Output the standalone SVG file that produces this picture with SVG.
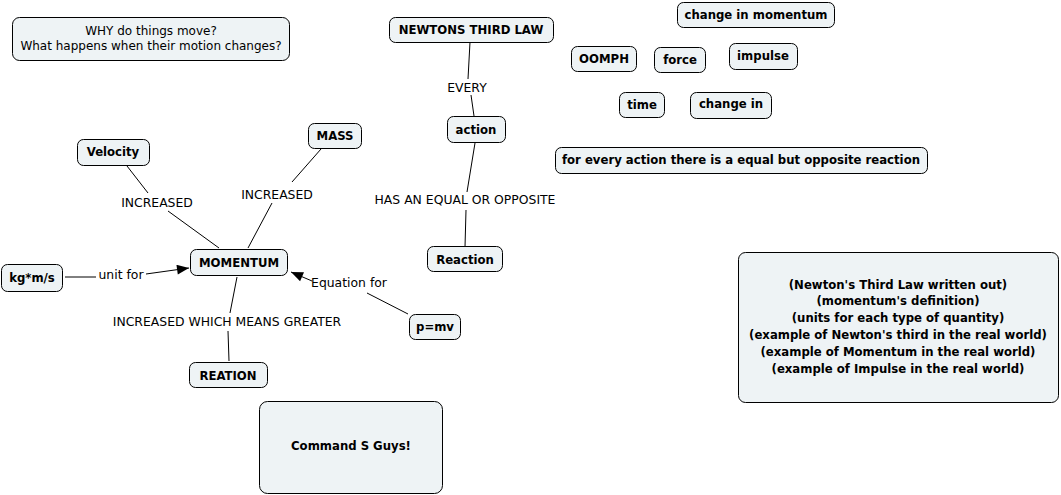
<svg xmlns="http://www.w3.org/2000/svg" width="1061" height="495" viewBox="0 0 1061 495">
<style>
.n rect{fill:#eef3f5;stroke:#000;stroke-width:1}
.n text{font-family:"DejaVu Sans",Verdana,sans-serif;font-weight:bold;font-size:11.7px;fill:#000;text-anchor:middle}
.w text{font-weight:normal;font-size:12px}
.c line,.c polyline{stroke:#000;stroke-width:1;fill:none}
.lb{font-family:"DejaVu Sans",Verdana,sans-serif;font-size:12.4px;fill:#000;text-anchor:middle}
</style>
<defs>
<marker id="ah" viewBox="0 0 12 10" refX="12" refY="5" markerWidth="13" markerHeight="10" markerUnits="userSpaceOnUse" orient="auto">
<path d="M0,0 L12,5 L0,10 Z" fill="#000"/>
</marker>
</defs>
<rect width="1061" height="495" fill="#fff"/>
<g class="c" id="connectors">
<line x1="470" y1="42" x2="468" y2="79"/>
<line x1="471" y1="95" x2="474" y2="116"/>
<line x1="475" y1="143" x2="467" y2="192"/>
<line x1="466" y1="210" x2="465" y2="247"/>
<line x1="127" y1="166" x2="148" y2="193"/>
<line x1="168" y1="211" x2="219" y2="248"/>
<line x1="321" y1="149" x2="292" y2="182"/>
<line x1="272" y1="203" x2="248" y2="248"/>
<line x1="65" y1="277" x2="96" y2="277"/>
<line x1="146" y1="274" x2="189" y2="268" marker-end="url(#ah)"/>
<line x1="408" y1="314" x2="367" y2="293"/>
<line x1="312" y1="281" x2="291" y2="272" marker-end="url(#ah)"/>
<line x1="237" y1="277" x2="230" y2="313"/>
<line x1="228" y1="331" x2="229" y2="361"/>
</g>
<g id="labels">
<text class="lb" x="467" y="92">EVERY</text>
<text class="lb" x="465" y="204">HAS AN EQUAL OR OPPOSITE</text>
<text class="lb" x="157" y="207">INCREASED</text>
<text class="lb" x="277" y="199">INCREASED</text>
<text class="lb" x="121" y="279">unit for</text>
<text class="lb" x="349" y="287">Equation for</text>
<text class="lb" x="227" y="326">INCREASED WHICH MEANS GREATER</text>
</g>
<g class="n w" id="why"><rect x="12.5" y="17.5" width="277" height="43" rx="7"/><text x="151" y="35">WHY do things move?</text><text x="151" y="50">What happens when their motion changes?</text></g>
<g class="n" id="ntl"><rect x="389.5" y="17.5" width="164" height="25" rx="6"/><text x="471" y="34">NEWTONS THIRD LAW</text></g>
<g class="n" id="action"><rect x="447.5" y="116.5" width="58" height="26" rx="6"/><text x="476" y="134">action</text></g>
<g class="n" id="reaction"><rect x="427.5" y="246.5" width="75" height="25" rx="6"/><text x="465" y="264">Reaction</text></g>
<g class="n" id="cim"><rect x="677.5" y="2.5" width="157" height="25" rx="6"/><text x="756" y="19">change in momentum</text></g>
<g class="n" id="oomph"><rect x="571.5" y="46.5" width="65" height="25" rx="6"/><text x="604" y="63">OOMPH</text></g>
<g class="n" id="force"><rect x="654.5" y="47.5" width="51" height="25" rx="6"/><text x="680" y="64">force</text></g>
<g class="n" id="impulse"><rect x="729.5" y="43.5" width="68" height="26" rx="6"/><text x="763" y="60">impulse</text></g>
<g class="n" id="time"><rect x="619.5" y="92.5" width="45" height="25" rx="6"/><text x="642" y="109">time</text></g>
<g class="n" id="changein"><rect x="690.5" y="92.5" width="81" height="26" rx="6"/><text x="731" y="108">change in</text></g>
<g class="n" id="forevery"><rect x="555.5" y="147.5" width="372" height="26" rx="6"/><text x="741" y="164">for every action there is a equal but opposite reaction</text></g>
<g class="n" id="velocity"><rect x="77.5" y="139.5" width="72" height="26" rx="6"/><text x="113" y="156">Velocity</text></g>
<g class="n" id="mass"><rect x="308.5" y="123.5" width="53" height="25" rx="6"/><text x="335" y="140">MASS</text></g>
<g class="n" id="momentum"><rect x="190.5" y="249.5" width="97" height="26" rx="6"/><text x="239" y="267">MOMENTUM</text></g>
<g class="n" id="kgms"><rect x="1.5" y="264.5" width="61" height="27" rx="6"/><text x="32" y="282">kg*m/s</text></g>
<g class="n" id="pmv"><rect x="409.5" y="314.5" width="51" height="25" rx="6"/><text x="435" y="331">p=mv</text></g>
<g class="n" id="reation"><rect x="189.5" y="362.5" width="78" height="25" rx="6"/><text x="228" y="380">REATION</text></g>
<g class="n" id="command"><rect x="259.5" y="401.5" width="183" height="92" rx="8"/><text x="351" y="450">Command S Guys!</text></g>
<g class="n" id="notes"><rect x="738.5" y="252.5" width="320" height="150" rx="7"/>
<text x="898" y="289">(Newton's Third Law written out)</text>
<text x="898" y="305">(momentum's definition)</text>
<text x="898" y="322">(units for each type of quantity)</text>
<text x="898" y="339">(example of Newton's third in the real world)</text>
<text x="898" y="356">(example of Momentum in the real world)</text>
<text x="898" y="373">(example of Impulse in the real world)</text>
</g>
</svg>
